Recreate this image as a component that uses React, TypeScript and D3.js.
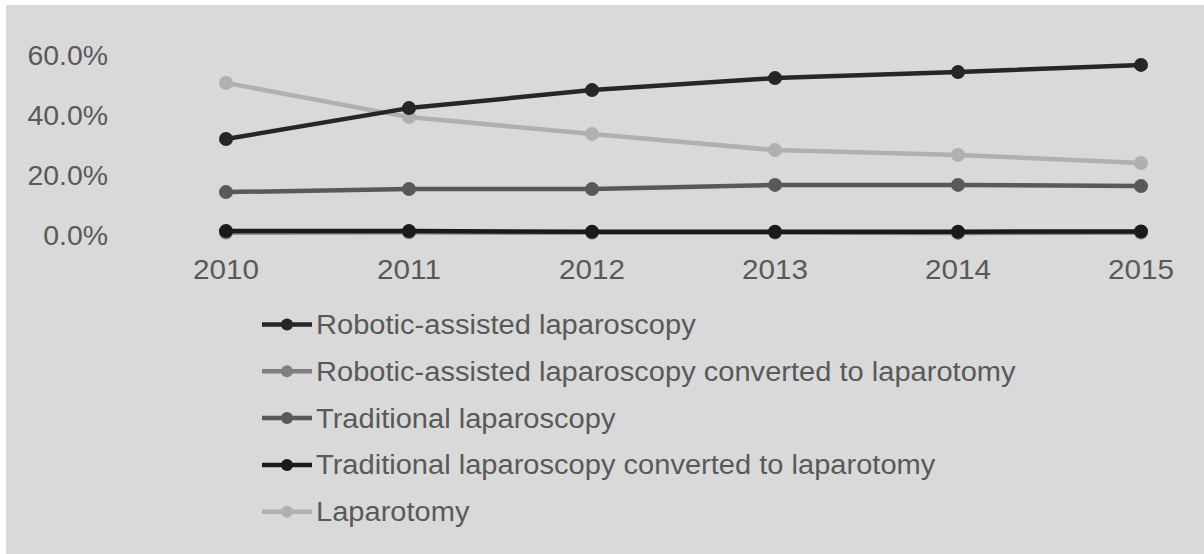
import React from "react";
import * as d3 from "d3";

const years = ["2010", "2011", "2012", "2013", "2014", "2015"];
const yTicks = [0, 0.2, 0.4, 0.6];

const seriesNames = [
  "Robotic-assisted laparoscopy",
  "Robotic-assisted laparoscopy converted to laparotomy",
  "Traditional laparoscopy",
  "Traditional laparoscopy converted to laparotomy",
  "Laparotomy",
];
const seriesColors = ["#262626", "#7f7f7f", "#595959", "#1a1a1a", "#b0b0b0"];

const roboticLap = [0.32, 0.423, 0.483, 0.523, 0.543, 0.567];
const roboticConv = [0.008, 0.009, 0.008, 0.008, 0.007, 0.008];
const tradLap = [0.143, 0.153, 0.153, 0.167, 0.167, 0.163];
const tradConv = [0.013, 0.013, 0.011, 0.011, 0.011, 0.012];
const laparotomy = [0.507, 0.393, 0.337, 0.283, 0.267, 0.24];

const seriesValues = [roboticLap, roboticConv, tradLap, tradConv, laparotomy];
// drawing order: lighter / back first
const drawOrder = [4, 2, 1, 3, 0];

export default function App() {
  const W = 1204;
  const H = 554;
  const x = d3.scalePoint<string>().domain(years).range([226, 1141]);
  const y = d3.scaleLinear().domain([0, 0.6]).range([235, 55]);
  const line = d3
    .line<number>()
    .x((_, i) => x(years[i]) as number)
    .y((d) => y(d));
  const fmt = d3.format(".1%");
  const font = "'Liberation Sans', Arial, sans-serif";
  const textColor = "#595959";
  const legendY0 = 324.5;
  const legendStep = 46.8;

  return (
    <svg
      width={W}
      height={H}
      style={{ position: "absolute", left: 0, top: 0 }}
      fontFamily={font}
    >
      <rect x={0} y={0} width={W} height={H} fill="#ffffff" />
      <rect x={6} y={5} width={W - 6} height={H - 5} fill="#d9d9d9" />
      {yTicks.map((t) => (
        <text
          key={t}
          transform={`translate(108,${y(t)}) scale(1.015,1)`}
          dy="0.35em"
          textAnchor="end"
          fontSize={28}
          fill={textColor}
        >
          {fmt(t)}
        </text>
      ))}
      {years.map((yr) => (
        <text
          key={yr}
          transform={`translate(${x(yr)},279) scale(1.06,1)`}
          textAnchor="middle"
          fontSize={28}
          fill={textColor}
        >
          {yr}
        </text>
      ))}
      {drawOrder.map((si) => (
        <g key={si}>
          <path
            d={line(seriesValues[si]) || ""}
            fill="none"
            stroke={seriesColors[si]}
            strokeWidth={4.5}
            strokeLinejoin="round"
          />
          {seriesValues[si].map((v, i) => (
            <circle
              key={i}
              cx={x(years[i])}
              cy={y(v)}
              r={7}
              fill={seriesColors[si]}
            />
          ))}
        </g>
      ))}
      {seriesNames.map((name, i) => {
        const cy = legendY0 + i * legendStep;
        return (
          <g key={name}>
            <line
              x1={262}
              x2={312}
              y1={cy}
              y2={cy}
              stroke={seriesColors[i]}
              strokeWidth={4.5}
            />
            <circle cx={287} cy={cy} r={6} fill={seriesColors[i]} />
            <text
              transform={`translate(316,${cy}) scale(1.077,1)`}
              dy="0.35em"
              fontSize={27}
              fill={textColor}
            >
              {name}
            </text>
          </g>
        );
      })}
    </svg>
  );
}
